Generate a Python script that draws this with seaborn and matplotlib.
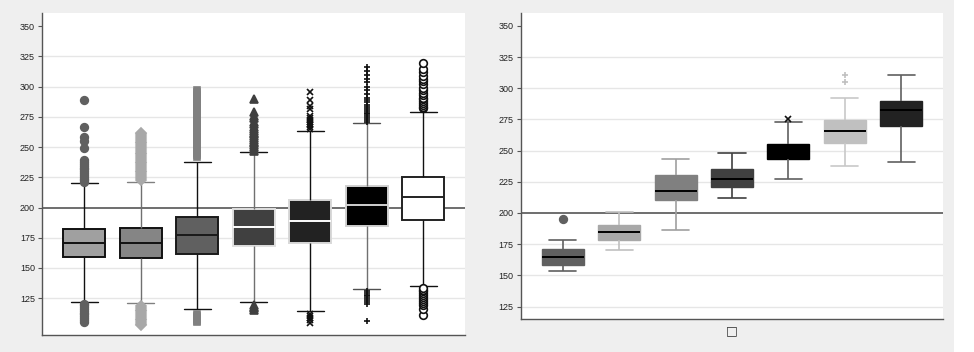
import matplotlib
matplotlib.use("Agg")
import matplotlib.pyplot as plt
import pandas as pd
import seaborn as sns
from matplotlib.patches import Rectangle

groups = ["1", "2", "3", "4", "5", "6", "7"]

# left panel: box stats
left_q1 = [159, 158.5, 161.5, 168.5, 170.5, 184.5, 190]
left_med = [170.5, 170.5, 177, 184, 189, 202.5, 209]
left_q3 = [182.5, 183, 192, 198.5, 206.5, 217.5, 225]
left_lw = [122, 121, 116, 121.4, 114, 132.4, 135]
left_uw = [220, 221, 238, 246, 263, 269.7, 278.8]
left_hi_out = [
    [221, 222.5, 224, 225.5, 227, 228.5, 230, 231.5, 233, 234.5, 236, 237.5, 239,
     249, 255, 258, 267, 289],
    [223, 224.5, 226, 227.5, 229, 230.5, 232, 233.5, 235, 236.5, 238, 239.5, 241,
     242.5, 244, 245.5, 247, 248.5, 250, 251.5, 253, 254.5, 256, 257.5, 259, 260.5, 262],
    [241.5, 243.5, 245.5, 247.5, 249.5, 251.5, 253.5, 255.5, 257.5, 259.5, 261.5, 263.5,
     265.5, 267.5, 269.5, 271.5, 273.5, 275.5, 277.5, 279.5, 281.5, 283.5, 285.5, 287.5,
     289.5, 291.5, 293.5, 295.5, 297],
    [247, 248.5, 250, 251.5, 253, 254.5, 256, 257.5, 259, 260.5, 262, 263.5, 265, 267,
     269, 271, 274, 276, 279, 290],
    [265, 266.5, 268, 269.5, 271, 272.5, 274, 276, 281.8, 283.7, 289, 295.6],
    [271, 272.5, 274, 275.5, 277, 278.5, 280, 281.5, 283, 285, 287, 289, 291, 294, 297,
     300, 304, 306, 310, 313, 316],
    [282, 283.5, 285, 286.5, 288, 289.5, 291, 293, 295, 297, 299, 302, 305, 306, 309,
     312, 315, 319.5],
]
left_lo_out = [
    [120.5, 119, 117.5, 116, 114.5, 113, 111.5, 110, 108.5, 107, 105.5],
    [118.5, 117, 115.5, 114, 112.5, 111, 109.5, 108, 106.5, 105, 103.5, 102.5],
    [112, 110.5, 109, 107.5, 106, 105],
    [119.5, 118, 116.5, 115],
    [112, 110.5, 108.5, 107, 104.5],
    [131, 129.5, 128, 126.5, 125, 123.5, 122, 120.5, 106],
    [133.5, 132, 130.5, 129, 127.5, 126, 124.5, 123, 121, 119, 116, 111],
]

# right panel
right_q1 = [158, 178, 210.5, 220.5, 243.5, 256.5, 269.5]
right_med = [165, 184.5, 217.5, 227.5, 249, 266, 283]
right_q3 = [171, 190.5, 230.5, 235.5, 255.5, 274.5, 290]
right_lw = [153.6, 170, 186, 212, 227, 238, 241]
right_uw = [178.7, 201, 243.5, 248.5, 273, 292.5, 311]
right_hi_out = [[195.5], [], [], [], [275.2], [305, 311], []]
right_lo_out = [[], [], [], [], [], [], []]

# styles: fill, box edge, median, whisker, cap, flier marker, flier face, flier edge, flier size
left_styles = [
    ("#a0a0a0", "#111111", "#111111", "#111111", "#111111", "o", "#606060", "#606060", 5.5),
    ("#858585", "#111111", "#111111", "#707070", "#808080", "D", "#a8a8a8", "#a8a8a8", 5.0),
    ("#606060", "#1a1a1a", "#1a1a1a", "#111111", "#111111", "s", "#808080", "#808080", 5.0),
    ("#404040", "#e0e0e0", "#ffffff", "#707070", "#111111", "^", "#404040", "#404040", 6.0),
    ("#222222", "#d8d8d8", "#ffffff", "#111111", "#111111", "x", "#111111", "#111111", 4.0),
    ("#000000", "#d0d0d0", "#d0d0d0", "#707070", "#505050", "+", "#111111", "#111111", 5.0),
    ("#ffffff", "#222222", "#222222", "#111111", "#111111", "o", "#ffffff", "#111111", 5.5),
]
right_styles = [
    ("#606060", "#606060", "#000000", "#606060", "#606060", "o", "#606060", "#606060", 5.5),
    ("#a8a8a8", "#a8a8a8", "#000000", "#c0c0c0", "#c0c0c0", "o", "#c0c0c0", "#c0c0c0", 5.5),
    ("#808080", "#808080", "#000000", "#a0a0a0", "#a0a0a0", "s", "#a0a0a0", "#a0a0a0", 5.0),
    ("#404040", "#404040", "#000000", "#404040", "#404040", "^", "#404040", "#404040", 6.0),
    ("#000000", "#000000", "#000000", "#606060", "#606060", "x", "#111111", "#111111", 4.0),
    ("#c0c0c0", "#c0c0c0", "#000000", "#c8c8c8", "#c8c8c8", "+", "#c0c0c0", "#c0c0c0", 5.0),
    ("#222222", "#222222", "#000000", "#606060", "#606060", "o", "#222222", "#222222", 5.5),
]


def build_sample(lo_out, lw, q1, med, q3, uw, hi_out):
    # stack values so the quartiles fall exactly on q1 / med / q3
    m = max(len(lo_out), len(hi_out)) + 1
    below = sorted(lo_out) + [lw] * (m - len(lo_out))
    above = [uw] * (m - len(hi_out)) + sorted(hi_out)
    return below + [q1] * m + [med] * m + [q3] + above


def build_frame(q1, med, q3, lw, uw, hi_out, lo_out):
    rows = []
    for i, g in enumerate(groups):
        for v in build_sample(lo_out[i], lw[i], q1[i], med[i], q3[i], uw[i], hi_out[i]):
            rows.append((g, v))
    return pd.DataFrame(rows, columns=["group", "value"])


left_df = build_frame(left_q1, left_med, left_q3, left_lw, left_uw, left_hi_out, left_lo_out)
right_df = build_frame(right_q1, right_med, right_q3, right_lw, right_uw, right_hi_out, right_lo_out)

sns.set_theme(style="white")
plt.rcParams["font.family"] = ["Liberation Sans", "DejaVu Sans"]

fig = plt.figure(figsize=(9.74, 3.52), dpi=100, facecolor="white")
fig.patches.append(Rectangle((0, 0), 954 / 974, 1, transform=fig.transFigure,
                             facecolor="#efefef", edgecolor="none", zorder=-10))

ax_l = fig.add_axes([0.0431, 0.0483, 0.4343, 0.9148])
ax_r = fig.add_axes([0.5346, 0.0938, 0.4333, 0.8693])


def draw_panel(ax, df, styles, whis, box_lw, line_lw):
    for i, g in enumerate(groups):
        fill, edge, medc, whc, capc, mk, mfc, mec, ms = styles[i]
        sns.boxplot(data=df[df["group"] == g], x="group", y="value", order=groups,
                    ax=ax, color=fill, saturation=1, width=0.74, whis=whis,
                    linecolor=edge, linewidth=box_lw,
                    medianprops={"color": medc, "linewidth": 1.4},
                    whiskerprops={"color": whc, "linewidth": line_lw},
                    capprops={"color": capc, "linewidth": line_lw},
                    flierprops={"marker": mk, "markerfacecolor": mfc,
                                "markeredgecolor": mec, "markersize": ms,
                                "markeredgewidth": 1.2, "linestyle": "none"})
        bp = ax.containers[-1]
        for b in bp.boxes:
            b.set_facecolor(fill)
            b.set_edgecolor(edge)
        for cap in bp.caps:
            xs = cap.get_xdata()
            c = (xs[0] + xs[1]) / 2
            cap.set_xdata([c - 0.24, c + 0.24])

    ax.axhline(200, color="#555555", linewidth=1.2, zorder=1)
    ax.set_yticks([125, 150, 175, 200, 225, 250, 275, 300, 325, 350])
    ax.yaxis.grid(True, color="#e6e6e6", linewidth=1.0, zorder=0)
    ax.set_axisbelow(True)
    for gl, t in zip(ax.get_ygridlines(), ax.get_yticks()):
        if t in (200, 350):
            gl.set_visible(False)
    ax.set_xlim(-0.75, 6.74)
    ax.set_xlabel("")
    ax.set_ylabel("")
    ax.set_facecolor("white")
    for side in ("top", "right"):
        ax.spines[side].set_visible(False)
    for side in ("left", "bottom"):
        ax.spines[side].set_color("#555555")
        ax.spines[side].set_linewidth(1.0)
    ax.tick_params(axis="y", left=True, length=3, width=0.8, color="#555555",
                   labelsize=6.5, labelcolor="#222222", pad=2)


draw_panel(ax_l, left_df, left_styles, 1.6, 1.4, 1.0)
draw_panel(ax_r, right_df, right_styles, 1.5, 1.0, 1.2)

ax_l.set_ylim(94.5, 361)
ax_l.set_xticks([])

ax_r.set_ylim(115, 360.4)
ax_r.set_xticks([3])
ax_r.set_xticklabels(["\u25a1"], fontsize=9, family=["DejaVu Sans"], color="#333333")
ax_r.tick_params(axis="x", bottom=False, length=0, pad=4)

fig.savefig("out.png", dpi=100, facecolor=fig.get_facecolor())
